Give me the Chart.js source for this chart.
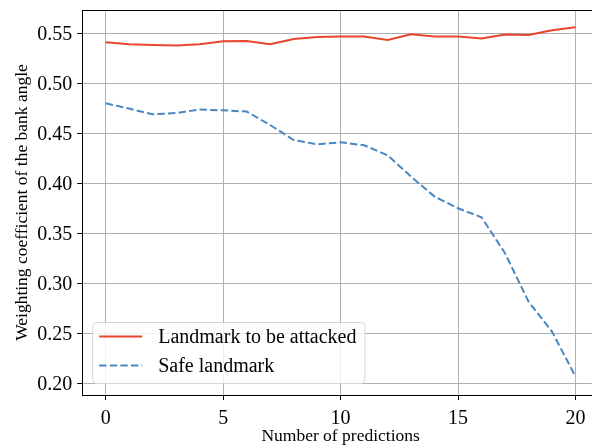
<!DOCTYPE html>
<html>
<head>
<meta charset="utf-8">
<script src="https://cdn.jsdelivr.net/npm/chart.js@4.4.0/dist/chart.umd.min.js"></script>
<style>
  html, body { margin: 0; padding: 0; background: #fff; overflow: hidden; }
  canvas { display: block; }
</style>
</head>
<body>
<canvas id="weightChart" width="599" height="445"></canvas>
<script>
// Weighting coefficient per prediction step
const predictions = [0, 1, 2, 3, 4, 5, 6, 7, 8, 9, 10, 11, 12, 13, 14, 15, 16, 17, 18, 19, 20];
const attacked = [0.541, 0.539, 0.5383, 0.5377, 0.539, 0.542, 0.5423, 0.539, 0.5443, 0.5463, 0.5467,
                  0.5467, 0.5433, 0.549, 0.5467, 0.5467, 0.5447, 0.5487, 0.5483, 0.553, 0.556];
const safe = [0.480, 0.4747, 0.469, 0.4703, 0.4737, 0.473, 0.4717, 0.4583, 0.4433, 0.439, 0.441,
              0.438, 0.428, 0.4067, 0.3867, 0.375, 0.366, 0.330, 0.2817, 0.2517, 0.2067];
const xTicks = [0, 5, 10, 15, 20];
const yTicks = [0.20, 0.25, 0.30, 0.35, 0.40, 0.45, 0.50, 0.55];

const serif = "'Liberation Serif', serif";
Chart.defaults.font.family = serif;
Chart.defaults.color = '#000';

// full frame on top of the plot (Chart.js only draws the axis sides)
const framePlugin = {
  id: 'frame',
  afterDatasetsDraw(chart) {
    const { ctx, chartArea: a } = chart;
    ctx.save();
    ctx.strokeStyle = '#000';
    ctx.lineWidth = 1;
    ctx.beginPath();
    ctx.moveTo(a.left, a.top + 0.5);
    ctx.lineTo(a.right, a.top + 0.5);
    ctx.stroke();
    ctx.restore();
  }
};

// tick labels in the serif face, placed from each scale's own ticks
const tickLabels = {
  id: 'tickLabels',
  afterDraw(chart) {
    const { ctx, chartArea: a } = chart;
    const xs = chart.scales.x, ys = chart.scales.y;
    ctx.save();
    ctx.font = '20px ' + serif;
    ctx.fillStyle = '#000';
    ctx.textBaseline = 'alphabetic';
    ctx.textAlign = 'center';
    xs.ticks.forEach(t => ctx.fillText(String(t.value), xs.getPixelForValue(t.value), a.bottom + 28.5));
    ctx.textAlign = 'right';
    ys.ticks.forEach(t => ctx.fillText(t.value.toFixed(2), a.left - 10, ys.getPixelForValue(t.value) + 6.8));
    ctx.restore();
  }
};

// legend box in the lower left corner of the plot
const insideLegend = {
  id: 'insideLegend',
  afterDraw(chart) {
    const { ctx, chartArea: a } = chart;
    const sets = chart.data.datasets;
    ctx.save();
    ctx.font = '20px ' + serif;
    const textW = Math.max(...sets.map(d => ctx.measureText(d.label).width));
    const x0 = a.left + 10, rowH = 29;
    const w = 7 + 43 + 16 + textW + 8;
    const h = 61;
    const y0 = a.bottom - 12 - h;

    ctx.fillStyle = 'rgba(255,255,255,0.8)';
    ctx.strokeStyle = '#d6d6d6';
    ctx.lineWidth = 1;
    ctx.beginPath();
    ctx.roundRect(x0 + 0.5, y0 + 0.5, w, h, 4);
    ctx.fill();
    ctx.stroke();

    sets.forEach((d, i) => {
      const cy = y0 + 14.5 + i * rowH;
      ctx.strokeStyle = d.borderColor;
      ctx.lineWidth = d.borderWidth;
      ctx.setLineDash(d.borderDash || []);
      ctx.beginPath();
      ctx.moveTo(x0 + 7, cy);
      ctx.lineTo(x0 + 50, cy);
      ctx.stroke();
      ctx.setLineDash([]);
      ctx.fillStyle = '#000';
      ctx.textBaseline = 'middle';
      ctx.fillText(d.label, x0 + 66, cy + 1);
    });
    ctx.restore();
  }
};

const axisGrid = { color: '#b0b0b0', lineWidth: 1, tickColor: '#000', tickLength: 5 };
const axisBorder = { color: '#000', width: 1 };

const chart = new Chart(document.getElementById('weightChart'), {
  type: 'line',
  data: {
    datasets: [
      {
        label: 'Landmark to be attacked',
        data: predictions.map((p, i) => ({ x: p, y: attacked[i] })),
        borderColor: '#e8452f',
        borderWidth: 2,
        pointRadius: 0,
        tension: 0
      },
      {
        label: 'Safe landmark',
        data: predictions.map((p, i) => ({ x: p, y: safe[i] })),
        borderColor: '#4a87c0',
        borderWidth: 2,
        borderDash: [7.4, 3.2],
        pointRadius: 0,
        tension: 0
      }
    ]
  },
  options: {
    responsive: false,
    animation: false,
    layout: { autoPadding: false, padding: { top: 10, left: 0, right: 0, bottom: 0 } },
    plugins: {
      legend: { display: false },
      tooltip: { enabled: false }
    },
    scales: {
      x: {
        type: 'linear',
        min: -1,
        max: 21,
        afterBuildTicks: s => { s.ticks = xTicks.map(v => ({ value: v })); },
        afterFit: s => { s.height = 50; s.paddingLeft = 0; s.paddingRight = 0; },
        grid: axisGrid,
        border: axisBorder,
        ticks: { display: false },
        title: {
          display: true,
          text: 'Number of predictions',
          color: '#000',
          padding: { top: 0, bottom: 0 },
          font: { family: serif, size: 17.5, lineHeight: 1 }
        }
      },
      y: {
        min: 0.1883,
        max: 0.5733,
        afterBuildTicks: s => { s.ticks = yTicks.map(v => ({ value: v })); },
        afterFit: s => { s.width = 82.2; s.paddingTop = 0; s.paddingBottom = 0; },
        grid: axisGrid,
        border: axisBorder,
        ticks: { display: false },
        title: {
          display: true,
          text: 'Weighting coefficient of the bank angle',
          color: '#000',
          padding: { top: 14, bottom: 0 },
          font: { family: serif, size: 17.5, lineHeight: 1 }
        }
      }
    }
  },
  plugins: [framePlugin, tickLabels, insideLegend]
});
</script>
</body>
</html>
